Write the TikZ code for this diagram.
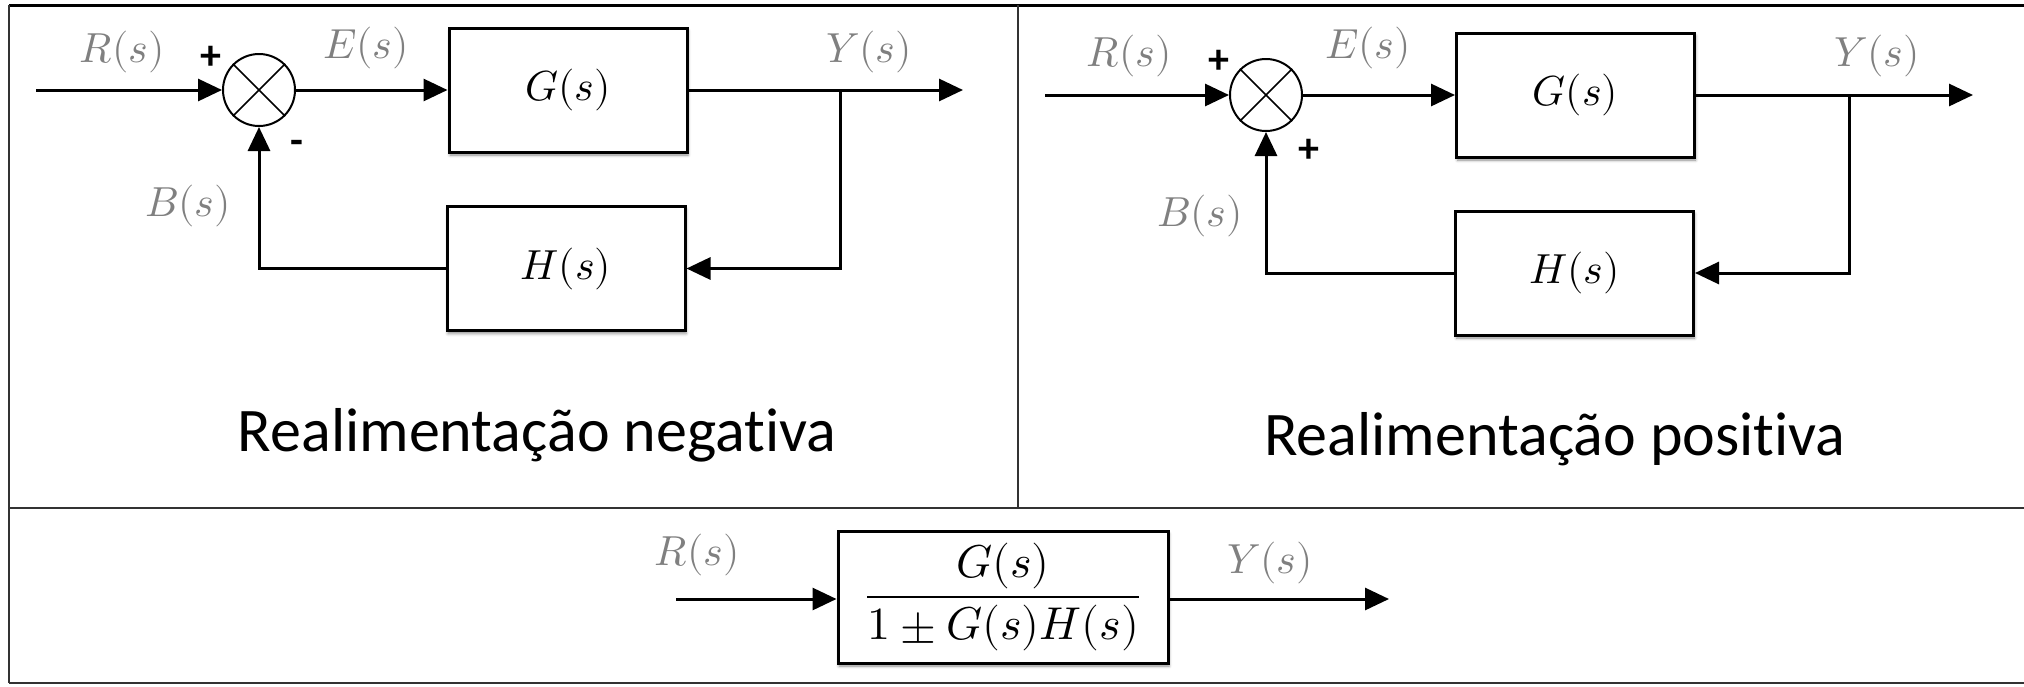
\documentclass[tikz,border=0pt]{standalone}
\usepackage{amsmath}
\usepackage{fontspec}
\usepackage{unicode-math}
\setmainfont{Carlito}[Ligatures=NoCommon]
\setmathfont{Latin Modern Math}
\usetikzlibrary{arrows.meta,shadows.blur}

\definecolor{sgray}{RGB}{128,128,128}
\definecolor{rule}{RGB}{50,50,50}

\tikzset{
  sig/.style={line width=3pt, -{Triangle[length=24pt,width=22pt]}},
  blk/.style={draw, line width=3pt, fill=white, inner sep=0pt,
    minimum width=238pt, minimum height=124pt,
    font=\fontsize{42}{50}\selectfont,
    blur shadow={shadow xshift=1pt, shadow yshift=-3pt, shadow blur radius=3pt, shadow opacity=45}},
  sumjunc/.style={circle, draw, line width=2pt, minimum size=72pt, inner sep=0pt},
  lbl/.style={text=sgray, font=\fontsize{42}{50}\selectfont, inner sep=0pt},
  sgn/.style={font=\fontsize{42}{46}\selectfont\bfseries, inner sep=0pt},
  title/.style={font=\fontsize{62}{70}\selectfont, inner sep=0pt, anchor=base},
  frame/.style={draw=rule, line width=2pt}
}

\begin{document}
\begin{tikzpicture}[x=1pt,y=-1pt]
\useasboundingbox (0,0) rectangle (2024,686);

% table rules
\draw[frame, line width=3pt, draw=black] (9,5) -- (2024,5);
\draw[frame] (9,5) -- (9,683);
\draw[frame] (9,508) -- (2024,508);
\draw[frame] (9,683) -- (2024,683);
\draw[frame, line width=1.5pt] (1018,5) -- (1018,508);

% ---------- negative feedback loop ----------
\node[sumjunc] (s1) at (259,90) {};
\draw[line width=1.5pt] (s1.north west) -- (s1.south east) (s1.north east) -- (s1.south west);
\node[blk] (g1) at (568,90) {$G(s)$};
\node[blk] (h1) at (566,268.5) {$H(s)$};
\coordinate (in1) at (36,90);
\coordinate (out1) at (963,90);
\coordinate (br1) at (840,90);
\draw[sig] (in1) -- (s1);
\draw[sig] (s1) -- (g1);
\draw[sig] (g1) -- (out1);
\draw[sig] (br1) |- (h1.east);
\draw[sig] (h1.west) -| (s1.south);

\node[lbl] (r1) at (122,52) {$R(s)$};
\node[lbl] (e1) at (366,48) {$E(s)$};
\node[lbl] (y1) at (869,52) {$Y(s)$};
\node[lbl] (b1) at (188,206) {$B(s)$};
\node[sgn] (p1) at (211,58) {+};
\node[sgn] (m1) at (297,147) {-};
\node[title] (t1) at (537,451) {Realimentação negativa};

% ---------- positive feedback loop ----------
\node[sumjunc] (s2) at (1266,95) {};
\draw[line width=1.5pt] (s2.north west) -- (s2.south east) (s2.north east) -- (s2.south west);
\node[blk] (g2) at (1575.5,95) {$G(s)$};
\node[blk] (h2) at (1574.5,273) {$H(s)$};
\coordinate (in2) at (1045,95);
\coordinate (out2) at (1973,95);
\coordinate (br2) at (1849,95);
\draw[sig] (in2) -- (s2);
\draw[sig] (s2) -- (g2);
\draw[sig] (g2) -- (out2);
\draw[sig] (br2) |- (h2.east);
\draw[sig] (h2.west) -| (s2.south);

\node[lbl] (r2) at (1129,56) {$R(s)$};
\node[lbl] (e2) at (1368,48) {$E(s)$};
\node[lbl] (y2) at (1877,56) {$Y(s)$};
\node[lbl] (b2) at (1200,216) {$B(s)$};
\node[sgn] (p2) at (1219,62) {+};
\node[sgn] (p3) at (1309,151) {+};
\node[title] (t2) at (1555,455) {Realimentação positiva};

% ---------- equivalent closed-loop block ----------
\node[blk, minimum width=330pt, minimum height=132pt, font=\fontsize{46}{54}\selectfont] (f) at (1003,597)
  {$\dfrac{G(s)}{1\pm G(s)H(s)}$};
\coordinate (in3) at (676,599);
\coordinate (out3) at (1389,599);
\draw[sig] (in3) -- (in3 -| f.west);
\draw[sig] (out3 -| f.east) -- (out3);
\node[lbl] (r3) at (697,555) {$R(s)$};
\node[lbl] (y3) at (1270,563) {$Y(s)$};
\end{tikzpicture}
\end{document}
